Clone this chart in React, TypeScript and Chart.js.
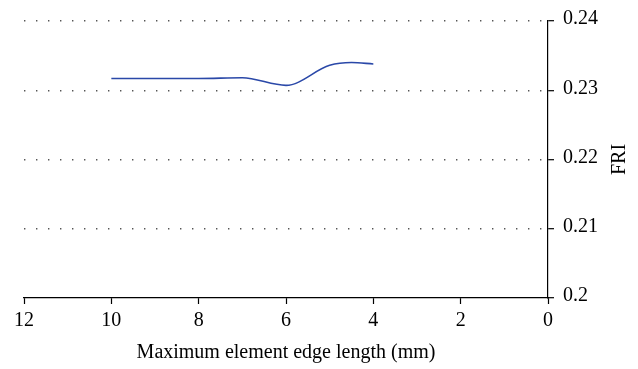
import React, { useEffect, useRef } from "react";
import { Chart, registerables } from "chart.js";

Chart.register(...registerables);

const edgeLengths = [10, 9, 8, 7, 6, 5, 4.5, 4];
const friValues = [0.2317, 0.2317, 0.2317, 0.2318, 0.2307, 0.2336, 0.234, 0.2338];
const xTicks = [0, 2, 4, 6, 8, 10, 12];
const yTicks = [0.2, 0.21, 0.22, 0.23, 0.24];
const xTitle = "Maximum element edge length (mm)";
const yTitle = "FRI";

const FONT_FAMILY = "'Liberation Serif', 'DejaVu Serif', serif";

const yTitlePlugin = {
  id: "yTitle",
  afterDraw(chart: any) {
    const { ctx, chartArea } = chart;
    ctx.save();
    ctx.translate(620, (chartArea.top + chartArea.bottom) / 2);
    ctx.rotate(-Math.PI / 2);
    ctx.font = `20px ${FONT_FAMILY}`;
    ctx.fillStyle = "#000";
    ctx.textAlign = "center";
    ctx.textBaseline = "middle";
    ctx.fillText(yTitle, 0, 0);
    ctx.restore();
  },
};

export default function App() {
  const ref = useRef<HTMLCanvasElement>(null);
  useEffect(() => {
    document.body.style.margin = "0";
    const font = { family: FONT_FAMILY, size: 20 };
    const chart = new Chart(ref.current!, {
      type: "line",
      data: {
        datasets: [
          {
            data: edgeLengths.map((x, i) => ({ x, y: friValues[i] })),
            borderColor: "#2a48a8",
            borderWidth: 1.6,
            pointRadius: 0,
            cubicInterpolationMode: "monotone",
            fill: false,
          },
        ],
      },
      options: {
        animation: false,
        responsive: false,
        layout: { padding: { left: 24, right: 0, top: 18, bottom: 0 } },
        plugins: { legend: { display: false }, tooltip: { enabled: false } },
        scales: {
          x: {
            type: "linear",
            reverse: true,
            min: 0,
            max: 12,
            afterBuildTicks: (s: any) => {
              s.ticks = xTicks.map((v) => ({ value: v }));
            },
            afterFit: (s: any) => {
              s.height = 71;
            },
            grid: {
              drawOnChartArea: false,
              drawTicks: true,
              tickLength: 6,
              tickColor: "#000",
              tickWidth: 1.2,
            },
            border: { display: true, color: "#000", width: 1.2 },
            ticks: { color: "#000", font, padding: 5, maxRotation: 0 },
            title: {
              display: true,
              text: xTitle,
              color: "#000",
              font,
              padding: { top: 4, bottom: 4 },
            },
          },
          y: {
            type: "linear",
            position: "right",
            min: 0.2,
            max: 0.24,
            afterBuildTicks: (s: any) => {
              s.ticks = yTicks.map((v) => ({ value: v }));
            },
            afterFit: (s: any) => {
              s.width = 90;
            },
            grid: {
              drawOnChartArea: true,
              color: (ctx: any) => (ctx.tick && ctx.tick.value === 0.2 ? "rgba(0,0,0,0)" : "#555"),
              lineWidth: 1.4,
              drawTicks: true,
              tickLength: 6,
              tickColor: "#000",
              tickWidth: 1.2,
              tickBorderDash: [],
            },
            border: { display: true, color: "#000", width: 1.2, dash: [1.4, 10.6] },
            ticks: {
              color: "#000",
              font,
              padding: 9,
              labelOffset: -2,
              callback: (v: any) => String(Number(Number(v).toFixed(2))),
            },
          },
        },
      },
      plugins: [yTitlePlugin],
    } as any);
    return () => chart.destroy();
  }, []);
  return (
    <div style={{ width: 638, height: 369 }}>
      <canvas ref={ref} width={638} height={369} style={{ display: "block" }} />
    </div>
  );
}
